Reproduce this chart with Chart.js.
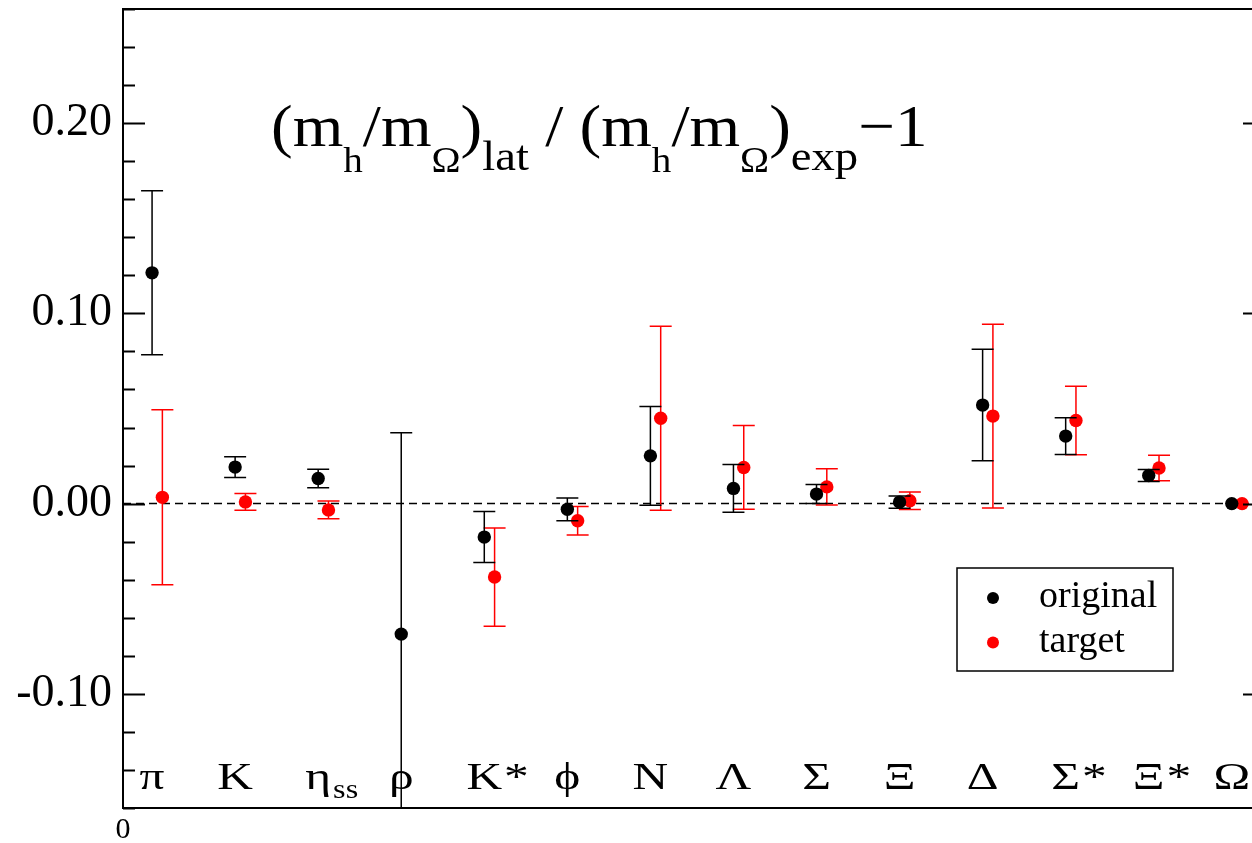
<!DOCTYPE html>
<html>
<head>
<meta charset="utf-8">
<script src="https://cdn.jsdelivr.net/npm/chart.js@4.4.0/dist/chart.umd.min.js"></script>
<style>
html, body { margin: 0; padding: 0; background: #fff; overflow: hidden; }
canvas { display: block; }
</style>
</head>
<body>
<canvas id="graphCanvas" width="1280" height="843"></canvas>
<script>
// hadron names ("_" starts a subscript)
var hadrons = ['π', 'K', 'η_ss', 'ρ', 'K*', 'ϕ', 'N', 'Λ', 'Σ', 'Ξ', 'Δ', 'Σ*', 'Ξ*', 'Ω'];

var originalVal = [0.1213, 0.0192, 0.0132, -0.0686, -0.0176, -0.0030, 0.0251, 0.0080, 0.0050, 0.0008, 0.0518, 0.0355, 0.0148, 0.0];
var originalErr = [0.0431, 0.0055, 0.0049, 0.1058, 0.0134, 0.0060, 0.0260, 0.0126, 0.0050, 0.0032, 0.0293, 0.0097, 0.0032, 0.0];
var targetVal = [0.0033, 0.0009, -0.0033, null, -0.0386, -0.0090, 0.0449, 0.0190, 0.0088, 0.0015, 0.0460, 0.0437, 0.0187, 0.0];
var targetErr = [0.0460, 0.0044, 0.0047, null, 0.0258, 0.0075, 0.0484, 0.0220, 0.0095, 0.0046, 0.0483, 0.0180, 0.0067, 0.0];

var seriesNames = ['original', 'target'];

var SERIF = "'Liberation Serif', 'Times New Roman', serif";

function points(vals, shift) {
    var out = [];
    for (var i = 0; i < vals.length; i++) {
        out.push({ x: i + shift, y: vals[i] });
    }
    return out;
}

// draws text squeezed/stretched sideways, returns advance
function wideText(ctx, t, x, y, sx) {
    ctx.save();
    ctx.translate(x, y);
    ctx.scale(sx, 1);
    ctx.fillText(t, 0, 0);
    ctx.restore();
    return ctx.measureText(t).width * sx;
}

var errorBars = {
    id: 'errorBars',
    beforeDatasetDraw: function (chart, args) {
        var ds = chart.data.datasets[args.index];
        var meta = chart.getDatasetMeta(args.index);
        var y = chart.scales.y;
        var ctx = chart.ctx;
        var a = chart.chartArea;
        ctx.save();
        ctx.beginPath();
        ctx.rect(a.left, a.top, a.right - a.left, a.bottom - a.top);
        ctx.clip();
        ctx.strokeStyle = ds.borderColor;
        ctx.lineWidth = 1.5;
        meta.data.forEach(function (pt, i) {
            var v = ds.data[i].y, e = ds.errors[i];
            if (v == null || !e) return;
            var top = y.getPixelForValue(v + e), bot = y.getPixelForValue(v - e);
            ctx.beginPath();
            ctx.moveTo(pt.x, top); ctx.lineTo(pt.x, bot);
            ctx.moveTo(pt.x - 11, top); ctx.lineTo(pt.x + 11, top);
            ctx.moveTo(pt.x - 11, bot); ctx.lineTo(pt.x + 11, bot);
            ctx.stroke();
        });
        ctx.restore();
    }
};

var frameStuff = {
    id: 'frameStuff',
    beforeDatasetsDraw: function (chart) {
        var ctx = chart.ctx, a = chart.chartArea, y = chart.scales.y;
        var y0 = y.getPixelForValue(0);
        ctx.save();
        ctx.strokeStyle = '#000';
        ctx.lineWidth = 1.5;
        ctx.setLineDash([8, 5]);
        ctx.beginPath();
        ctx.moveTo(a.left, y0); ctx.lineTo(a.right, y0);
        ctx.stroke();
        ctx.restore();
    },
    afterDraw: function (chart) {
        var ctx = chart.ctx, a = chart.chartArea, x = chart.scales.x, y = chart.scales.y;
        ctx.save();
        ctx.strokeStyle = '#000';
        ctx.lineWidth = 2;
        ctx.strokeRect(a.left, a.top, a.right - a.left, a.bottom - a.top);

        // inward ticks, minor every 0.02
        ctx.lineWidth = 1.8;
        for (var k = -8; k <= 13; k++) {
            var py = Math.round(y.getPixelForValue(k * 0.02)) + 0.5;
            var major = (k % 5 === 0);
            ctx.beginPath();
            ctx.moveTo(a.left, py); ctx.lineTo(a.left + (major ? 22 : 12), py);
            ctx.moveTo(a.right, py); ctx.lineTo(a.right - (major ? 22 : 12), py);
            ctx.stroke();
        }

        // hadron names along the bottom
        ctx.fillStyle = '#000';
        ctx.textBaseline = 'alphabetic';
        var base = 789, sx = 1.3;
        hadrons.forEach(function (name, i) {
            var parts = name.split('_');
            var main = parts[0].charAt(0), rest = parts[0].slice(1);
            var cx = x.getPixelForValue(i + 0.35);
            ctx.font = '38px ' + SERIF;
            var w = ctx.measureText(main).width * sx;
            var px = cx - w / 2;
            wideText(ctx, main, px, base, sx);
            px += w;
            if (rest) {
                px += wideText(ctx, rest, px + 2, base, sx);
            }
            if (parts[1]) {
                ctx.font = '28px ' + SERIF;
                wideText(ctx, parts[1], px + 2, base + 9, 1.15);
            }
        });

        // title
        var segs = [
            ['(m', 60, 0], ['h', 36, 26], ['/m', 60, 0], ['Ω', 36, 26], [')', 60, 0],
            ['lat', 43, 24], [' / (m', 60, 0], ['h', 36, 26], ['/m', 60, 0], ['Ω', 36, 26],
            [')', 60, 0], ['exp', 43, 24], ['−1', 60, 0]
        ];
        var tx = 271;
        segs.forEach(function (s) {
            ctx.font = s[1] + 'px ' + SERIF;
            tx += wideText(ctx, s[0], tx, 146 + s[2], 1.085);
        });

        // legend
        var lx = 957, ly = 568, lw = 216, lh = 103;
        ctx.fillStyle = '#fff';
        ctx.fillRect(lx, ly, lw, lh);
        ctx.lineWidth = 1.5;
        ctx.strokeRect(lx, ly, lw, lh);
        chart.data.datasets.forEach(function (ds, i) {
            var ry = ly + 30 + i * 44.5;
            ctx.fillStyle = ds.backgroundColor;
            ctx.beginPath();
            ctx.arc(lx + 36, ry, 6, 0, Math.PI * 2);
            ctx.fill();
            ctx.fillStyle = '#000';
            ctx.font = '38px ' + SERIF;
            ctx.fillText(ds.label, lx + 82, ry + 9);
        });
        ctx.restore();
    }
};

function noPad(s) {
    s.paddingTop = 0;
    s.paddingBottom = 0;
    s.paddingLeft = 0;
    s.paddingRight = 0;
}

var chartdata = {
    datasets: [
        {
            label: seriesNames[0],
            data: points(originalVal, 0.35),
            errors: originalErr,
            backgroundColor: '#000000',
            borderColor: '#000000',
            pointRadius: 6.7,
            pointBorderWidth: 0
        },
        {
            label: seriesNames[1],
            data: points(targetVal, 0.474),
            errors: targetErr,
            backgroundColor: '#ff0000',
            borderColor: '#ff0000',
            pointRadius: 6.7,
            pointBorderWidth: 0
        }
    ]
};

var graphTarget = document.getElementById('graphCanvas');

var scatter = new Chart(graphTarget, {
    type: 'scatter',
    data: chartdata,
    plugins: [errorBars, frameStuff],
    options: {
        responsive: false,
        animation: false,
        layout: { padding: { top: 9, right: 15, left: 0, bottom: 0 } },
        plugins: {
            legend: { display: false },
            tooltip: { enabled: false }
        },
        scales: {
            x: {
                type: 'linear',
                min: 0,
                max: 13.75,
                grid: { display: false, drawTicks: false },
                border: { display: false },
                ticks: {
                    stepSize: 1,
                    includeBounds: false,
                    maxRotation: 0,
                    autoSkip: false,
                    padding: 4,
                    color: '#000',
                    font: { family: SERIF, size: 30 },
                    callback: function (v) { return v === 0 ? '0' : ''; }
                },
                afterFit: function (s) { s.height = 35; noPad(s); }
            },
            y: {
                min: -0.16,
                max: 0.26,
                grid: { display: false, drawTicks: false },
                border: { display: false },
                ticks: {
                    stepSize: 0.1,
                    includeBounds: false,
                    padding: 11,
                    color: '#000',
                    font: { family: SERIF, size: 46 },
                    callback: function (v) { return v.toFixed(2); }
                },
                afterFit: function (s) { s.width = 123; noPad(s); }
            }
        }
    }
});
</script>
</body>
</html>
